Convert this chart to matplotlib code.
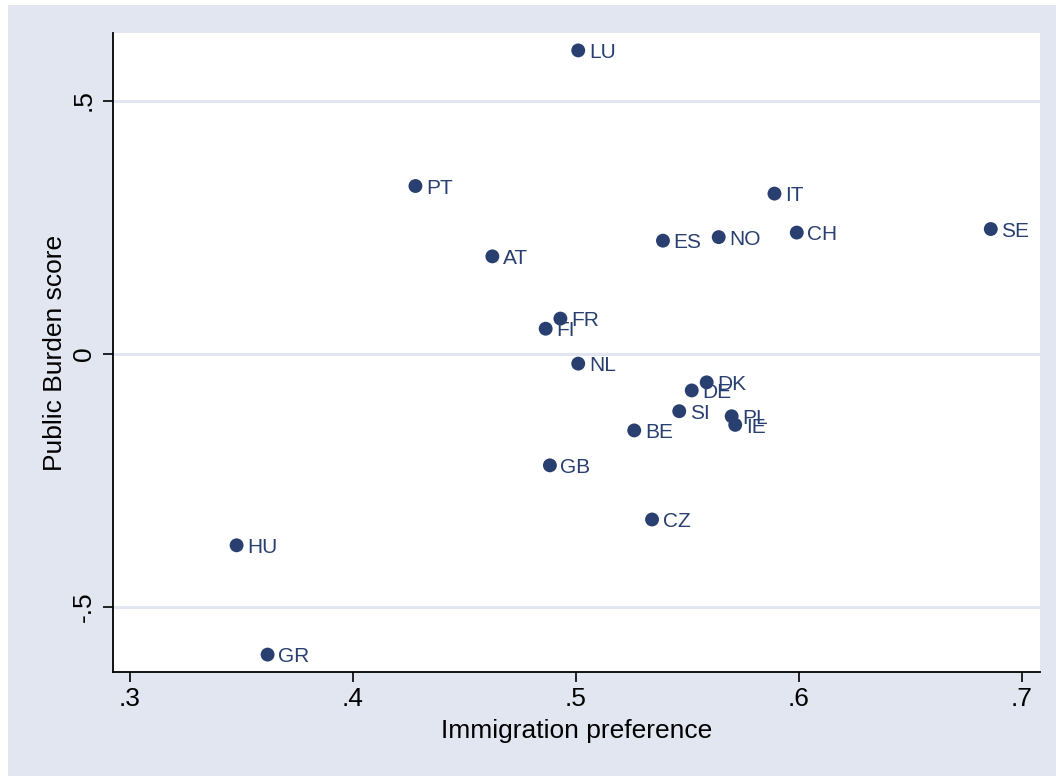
import matplotlib
matplotlib.use("Agg")
import matplotlib.pyplot as plt
from matplotlib.patches import Rectangle

# Country scores
countries = ["LU", "PT", "IT", "SE", "CH", "NO", "ES", "AT", "FR", "FI", "NL",
             "DK", "DE", "SI", "PL", "IE", "BE", "GB", "CZ", "HU", "GR"]
immigration_pref = [0.501, 0.428, 0.589, 0.686, 0.599, 0.564, 0.539, 0.4625, 0.493, 0.4864, 0.501,
                    0.5586, 0.5519, 0.5463, 0.5698, 0.5714, 0.5261, 0.4883, 0.5341, 0.3478, 0.3617]
public_burden = [0.599, 0.331, 0.316, 0.246, 0.239, 0.230, 0.223, 0.192, 0.069, 0.049, -0.020,
                 -0.057, -0.073, -0.114, -0.124, -0.141, -0.152, -0.221, -0.328, -0.379, -0.595]

x_ticks = [0.3, 0.4, 0.5, 0.6, 0.7]
x_ticklabels = [".3", ".4", ".5", ".6", ".7"]
y_ticks = [-0.5, 0, 0.5]
y_ticklabels = ["-.5", "0", ".5"]

navy = "#283f70"
bg = "#e1e6f0"

plt.rcParams["font.family"] = ["Liberation Sans", "DejaVu Sans"]

fig = plt.figure(figsize=(10.56, 7.76), dpi=100, facecolor="white")
fig.add_artist(Rectangle((8 / 1056, 0), 1, 1 - 5 / 776, transform=fig.transFigure,
                         facecolor=bg, edgecolor="none", zorder=-10))
ax = fig.add_axes([113 / 1056, 1 - 672 / 776, (1040 - 113) / 1056, (672 - 33) / 776])
ax.set_facecolor("white")

ax.scatter(immigration_pref, public_burden, s=100, color=navy,
           edgecolors="none", zorder=3)
for name, xv, yv in zip(countries, immigration_pref, public_burden):
    ax.annotate(name, (xv, yv), xytext=(7.6, -5.6), textcoords="offset points",
                ha="left", va="baseline", fontsize=15, color=navy, zorder=4)

ax.set_xlim(0.29238, 0.70807)
ax.set_ylim(-0.6294, 0.6334)
ax.set_xticks(x_ticks)
ax.set_xticklabels(x_ticklabels)
ax.set_yticks(y_ticks)
ax.set_yticklabels(y_ticklabels, rotation=90, va="center")

for yv in y_ticks:
    ax.axhline(yv, color=bg, lw=2.2, zorder=1)

for side in ("top", "right"):
    ax.spines[side].set_visible(False)
for side in ("left", "bottom"):
    ax.spines[side].set_linewidth(1.3)
    ax.spines[side].set_color("black")

ax.tick_params(axis="both", direction="out", length=7.5, width=1.2,
               labelsize=19, color="black", labelcolor="black")
ax.tick_params(axis="x", pad=3)
ax.tick_params(axis="y", pad=5)

ax.set_xlabel("Immigration preference", fontsize=19, labelpad=6)
ax.set_ylabel("Public Burden score", fontsize=19, labelpad=3.5)

fig.savefig("out.png", dpi=100, facecolor=fig.get_facecolor())
